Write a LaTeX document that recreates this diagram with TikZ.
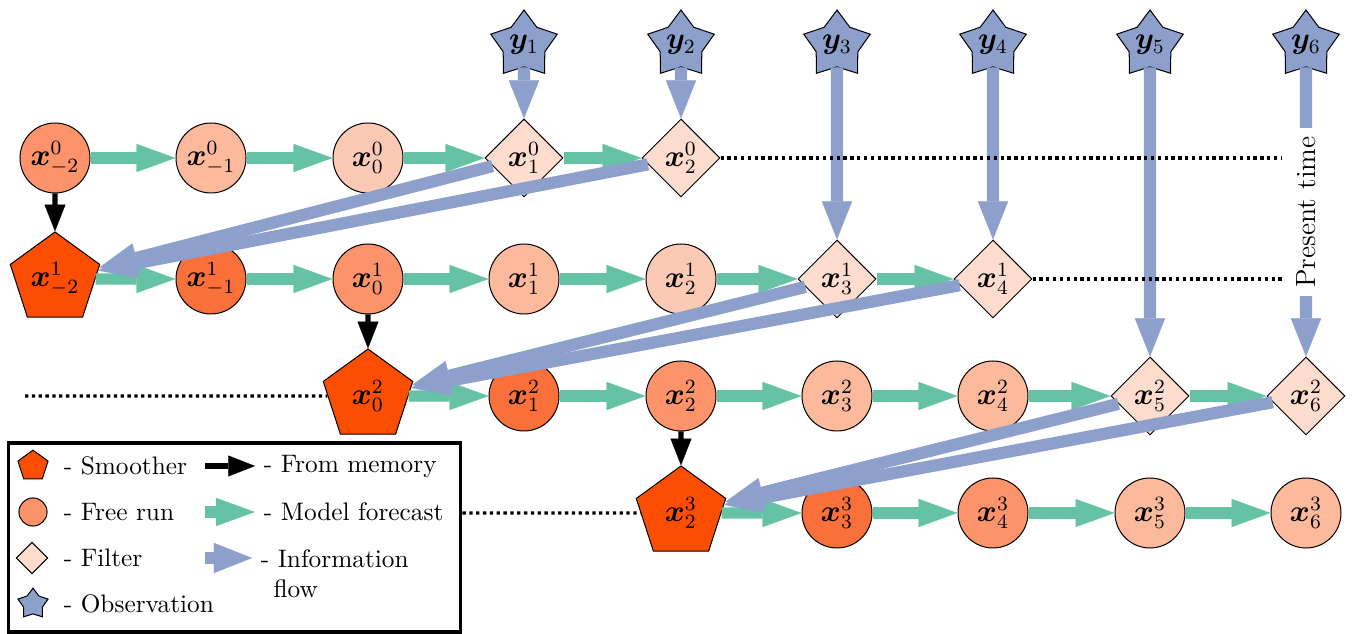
\documentclass[tikz,border=0pt]{standalone}
\usepackage{amsmath,bm}
\usetikzlibrary{arrows.meta,shapes.geometric,positioning}

\definecolor{fcgreen}{RGB}{102,194,165}
\definecolor{infoblue}{RGB}{141,160,203}
\definecolor{smcol}{RGB}{252,78,3}
\definecolor{frA}{RGB}{249,112,58}
\definecolor{frB}{RGB}{252,147,107}
\definecolor{frC}{RGB}{252,185,155}
\definecolor{frD}{RGB}{252,201,180}
\definecolor{ficol}{RGB}{254,220,206}

\begin{document}
\begin{tikzpicture}[
    x=0.13889mm, y=-0.13889mm,
    >=Triangle,
    free/.style={circle, draw, minimum size=9.72mm, inner sep=0pt, font=\large},
    filt/.style={diamond, draw, fill=ficol, minimum size=10.83mm, inner sep=0pt, font=\large},
    smooth/.style={regular polygon, regular polygon sides=5, draw, fill=smcol, minimum size=13.06mm, inner sep=0pt, font=\large},
    obs/.style={star, star points=5, star point ratio=1.6, draw, fill=infoblue, minimum size=9.72mm, inner sep=0pt, font=\large},
    fwd/.style={fcgreen, line width=4.5pt, -{Triangle[length=5.4mm, width=3.9mm, line width=0.1pt]}},
    info/.style={infoblue, line width=4.8pt, -{Triangle[length=5.3mm, width=4.2mm, line width=0.1pt]}},
    mem/.style={black, line width=2.1pt, -{Triangle[length=3.7mm, width=2.9mm, line width=0.1pt]}},
    dots/.style={black, line width=1.3pt, dash pattern=on 1.3pt off 1.4pt}
]
\useasboundingbox (0,0) rectangle (1352,634);

% observations
\node[obs] (y1) at (524,45) {$\bm{y}_1$};
\node[obs] (y2) at (681,45) {$\bm{y}_2$};
\node[obs] (y3) at (837,45) {$\bm{y}_3$};
\node[obs] (y4) at (993,45) {$\bm{y}_4$};
\node[obs] (y5) at (1150,45) {$\bm{y}_5$};
\node[obs] (y6) at (1306,45) {$\bm{y}_6$};

% iteration 0
\node[free, fill=frB] (x0m2) at (55,158) {$\bm{x}^0_{-2}$};
\node[free, fill=frC] (x0m1) at (211,158) {$\bm{x}^0_{-1}$};
\node[free, fill=frD] (x00) at (368,158) {$\bm{x}^0_0$};
\node[filt] (x01) at (524,158) {$\bm{x}^0_1$};
\node[filt] (x02) at (681,158) {$\bm{x}^0_2$};

% iteration 1
\node[smooth] (x1m2) at (55,279) {$\bm{x}^1_{-2}$};
\node[free, fill=frA] (x1m1) at (211,279) {$\bm{x}^1_{-1}$};
\node[free, fill=frB] (x10) at (368,279) {$\bm{x}^1_0$};
\node[free, fill=frC] (x11) at (524,279) {$\bm{x}^1_1$};
\node[free, fill=frD] (x12) at (681,279) {$\bm{x}^1_2$};
\node[filt] (x13) at (837,279) {$\bm{x}^1_3$};
\node[filt] (x14) at (993,279) {$\bm{x}^1_4$};

% iteration 2
\node[smooth] (x20) at (368,396) {$\bm{x}^2_0$};
\node[free, fill=frA] (x21) at (524,396) {$\bm{x}^2_1$};
\node[free, fill=frB] (x22) at (681,396) {$\bm{x}^2_2$};
\node[free, fill=frC] (x23) at (837,396) {$\bm{x}^2_3$};
\node[free, fill=frC] (x24) at (993,396) {$\bm{x}^2_4$};
\node[filt] (x25) at (1150,396) {$\bm{x}^2_5$};
\node[filt] (x26) at (1306,396) {$\bm{x}^2_6$};

% iteration 3
\node[smooth] (x32) at (681,513) {$\bm{x}^3_2$};
\node[free, fill=frA] (x33) at (837,513) {$\bm{x}^3_3$};
\node[free, fill=frB] (x34) at (993,513) {$\bm{x}^3_4$};
\node[free, fill=frC] (x35) at (1150,513) {$\bm{x}^3_5$};
\node[free, fill=frC] (x36) at (1306,513) {$\bm{x}^3_6$};

% model forecasts
\draw[fwd] (x0m2) -- (x0m1); \draw[fwd] (x0m1) -- (x00); \draw[fwd] (x00) -- (x01); \draw[fwd] (x01) -- (x02);
\draw[fwd] (x1m2) -- (x1m1); \draw[fwd] (x1m1) -- (x10); \draw[fwd] (x10) -- (x11); \draw[fwd] (x11) -- (x12);
\draw[fwd] (x12) -- (x13); \draw[fwd] (x13) -- (x14);
\draw[fwd] (x20) -- (x21); \draw[fwd] (x21) -- (x22); \draw[fwd] (x22) -- (x23); \draw[fwd] (x23) -- (x24);
\draw[fwd] (x24) -- (x25); \draw[fwd] (x25) -- (x26);
\draw[fwd] (x32) -- (x33); \draw[fwd] (x33) -- (x34); \draw[fwd] (x34) -- (x35); \draw[fwd] (x35) -- (x36);

% from memory
\draw[mem] (x0m2) -- (x1m2);
\draw[mem] (x10) -- (x20);
\draw[mem] (x22) -- (x32);

% observations in
\draw[info] (y1) -- (x01);
\draw[info] (y2) -- (x02);
\draw[info] (y3) -- (x13);
\draw[info] (y4) -- (x14);
\draw[info] (y5) -- (x25);
\draw[info] (y6) -- node[fill=white, text=black, rotate=90, font=\fontsize{11}{13}\selectfont] (present) {Present time} (x26);

% information flow back
\draw[info] (x01) -- (x1m2); \draw[info] (x02) -- (x1m2);
\draw[info] (x13) -- (x20); \draw[info] (x14) -- (x20);
\draw[info] (x25) -- (x32); \draw[info] (x26) -- (x32);

% legend
\node[draw, line width=1.2pt, minimum width=62.9mm, minimum height=26.25mm] (legend) at (234.5,537.5) {};
\node[smooth, minimum size=4.4mm] (lsm) at (33,466) {};
\node[free, fill=frB, minimum size=3.9mm] (lfr) at (33,512) {};
\node[filt, minimum size=4.4mm] (lfi) at (32,558) {};
\node[obs, minimum size=4.4mm] (lob) at (33,604) {};
\node[anchor=west] (tsm) at (55,466) {- Smoother};
\node[anchor=west] (tfr) at (55,512) {- Free run};
\node[anchor=west] (tfi) at (55,558) {- Filter};
\node[anchor=west] (tob) at (55,604) {- Observation};
\coordinate (lmem) at (205,466);
\coordinate (lfwd) at (205,512);
\coordinate (linf) at (205,558);
\node[anchor=west] (tmem) at (255,466) {- From memory};
\node[anchor=west] (tfwd) at (255,512) {- Model forecast};
\node[anchor=west, align=left] (tinf) at (252,574) {- Information\\\hspace*{0.5em}flow};
\draw[mem] (lmem) -- (tmem.west);
\draw[fwd] (lfwd) -- (tfwd.west);
\draw[info] (linf) -- (linf -| tinf.west);

% present / past boundaries
\coordinate (d2) at (25,396);
\draw[dots] (x02) -- (x02 -| present.north);
\draw[dots] (x14) -- (x14 -| present.north);
\draw[dots] (d2) -- (x20);
\draw[dots] (legend.east |- x32) -- (x32);
\end{tikzpicture}
\end{document}
